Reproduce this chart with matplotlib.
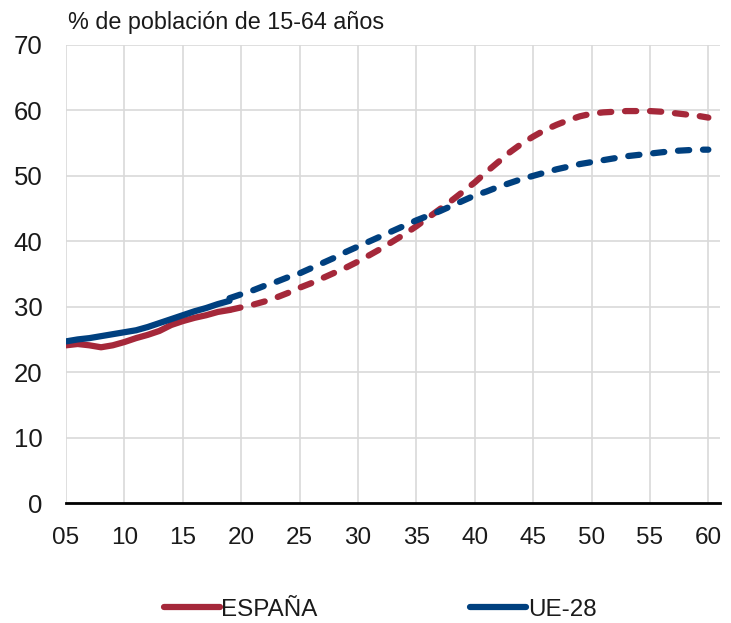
import matplotlib
matplotlib.use("Agg")
import matplotlib.pyplot as plt
from matplotlib.lines import Line2D

plt.rcParams['font.family'] = ['Liberation Sans', 'DejaVu Sans']

# datos observados (2005-2019)
years_obs = list(range(2005, 2020))
espana_obs = [24.1, 24.3, 24.1, 23.8, 24.1, 24.6, 25.2, 25.7, 26.3, 27.2,
              27.8, 28.3, 28.7, 29.2, 29.5]
ue28_obs = [24.7, 25.0, 25.2, 25.5, 25.8, 26.1, 26.4, 26.9, 27.5, 28.1,
            28.7, 29.3, 29.8, 30.4, 30.9]

# proyecciones (2019-2060)
years_proj = list(range(2019, 2061))
espana_proj = [29.5, 29.9, 30.3, 30.8, 31.4, 32.1, 32.9, 33.6, 34.4, 35.2,
               36.0, 36.9, 37.9, 38.9, 40.0, 41.1, 42.3, 43.6, 44.9, 46.2,
               47.6, 49.0, 50.6, 52.1, 53.6, 54.9, 56.0, 57.0, 57.8, 58.5,
               59.1, 59.5, 59.7, 59.8, 59.9, 59.9, 59.9, 59.8, 59.6, 59.4,
               59.2, 58.9]
ue28_proj = [31.3, 31.9, 32.5, 33.2, 33.8, 34.5, 35.1, 35.9, 36.7, 37.5,
             38.4, 39.2, 40.0, 40.8, 41.6, 42.4, 43.2, 43.9, 44.6, 45.4,
             46.2, 47.0, 47.6, 48.3, 48.9, 49.5, 50.0, 50.5, 51.0, 51.4,
             51.8, 52.1, 52.4, 52.7, 53.0, 53.2, 53.4, 53.6, 53.8, 53.9,
             54.0, 54.0]

xticks = list(range(2005, 2061, 5))
xtick_labels = ["05", "10", "15", "20", "25", "30", "35", "40", "45", "50", "55", "60"]

c_es = '#A5283A'
c_ue = '#00407F'
lw = 4.5
txt = '#1A1A1A'

fig = plt.figure(figsize=(7.31, 6.23), dpi=100)
ax = fig.add_axes([0.0903, 0.1926, 0.8947, 0.7352])

ax.plot(years_obs, espana_obs, color=c_es, lw=lw, solid_capstyle='round', zorder=3)
ax.plot(years_obs, ue28_obs, color=c_ue, lw=lw, solid_capstyle='round', zorder=3)
l1, = ax.plot(years_proj, espana_proj, color=c_es, lw=lw, dash_capstyle='round', zorder=3)
l2, = ax.plot(years_proj, ue28_proj, color=c_ue, lw=lw, dash_capstyle='round', zorder=3)
l1.set_dashes([1.8, 2.2])
l2.set_dashes([1.8, 2.2])

ax.set_xlim(2005, 2061)
ax.set_ylim(0, 70)
ax.set_yticks(range(0, 71, 10))
ax.set_xticks(xticks)
ax.set_xticklabels(xtick_labels)
ax.grid(True, color='#D9D9D9', lw=1.2, zorder=0)
ax.set_axisbelow(True)
for s in ['top', 'right', 'left']:
    ax.spines[s].set_visible(False)
ax.spines['bottom'].set_color('black')
ax.spines['bottom'].set_linewidth(2)
ax.spines['bottom'].set_zorder(4)
ax.tick_params(axis='both', length=0, colors=txt)
ax.tick_params(axis='y', pad=17, labelsize=18.5)
ax.tick_params(axis='x', pad=17, labelsize=17.5)

fig.text(0.093, 0.964, "% de población de 15-64 años", fontsize=16.8, color=txt,
         ha='left', va='center')

handles = [Line2D([], [], color=c_es, lw=lw, solid_capstyle='round'),
           Line2D([], [], color=c_ue, lw=lw, solid_capstyle='round')]
leg = fig.legend(handles, ["ESPAÑA", "UE-28"], loc='center', bbox_to_anchor=(0.52, 0.021),
                 ncol=2, frameon=False, fontsize=17.4, handlelength=2.3, handletextpad=0.08,
                 columnspacing=6.3)
for t in leg.get_texts():
    t.set_color(txt)

fig.savefig("out.png", dpi=100)
